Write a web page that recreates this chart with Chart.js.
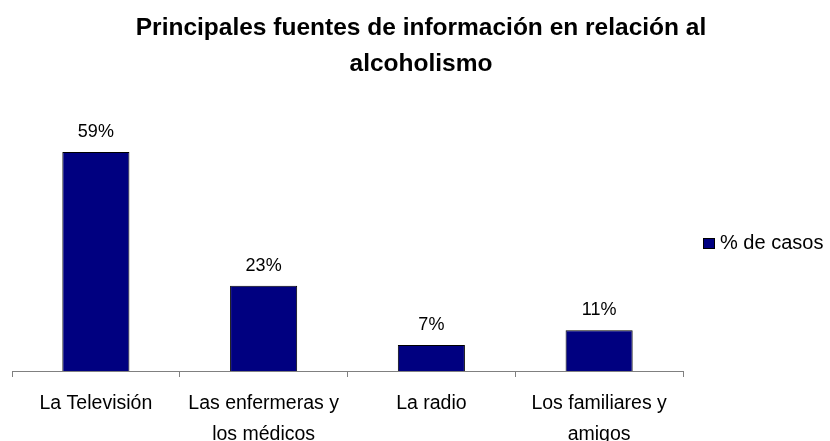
<!DOCTYPE html>
<html lang="es">
<head>
<meta charset="utf-8">
<title>Principales fuentes de información en relación al alcoholismo</title>
<script src="https://cdn.jsdelivr.net/npm/chart.js@4/dist/chart.umd.min.js"></script>
<style>
  html, body { margin: 0; padding: 0; background: #ffffff; }
  canvas { display: block; }
</style>
</head>
<body>
<canvas id="chart" width="830" height="441"></canvas>
<script>
// Categories (split into lines as shown under the axis)
const categories = [
  ["La Televisión"],
  ["Las enfermeras y", "los médicos"],
  ["La radio"],
  ["Los familiares y", "amigos"]
];
// Percentage of cases per source
const values = [59, 23, 7, 11];
const seriesLabel = "% de casos";
const titleLines = ["Principales fuentes de información en relación al", "alcoholismo"];

const FONT = "'Liberation Sans', Arial, Helvetica, sans-serif";
const NAVY = "#000080";

// Percentage labels above each bar
const valueLabels = {
  id: "valueLabels",
  afterDatasetsDraw(chart) {
    const ctx = chart.ctx;
    const meta = chart.getDatasetMeta(0);
    ctx.save();
    ctx.font = "18px " + FONT;
    ctx.fillStyle = "#000000";
    ctx.textAlign = "center";
    ctx.textBaseline = "alphabetic";
    meta.data.forEach((bar, i) => {
      const v = chart.data.datasets[0].data[i];
      ctx.fillText(v + "%", bar.x, bar.y - 15);
    });
    ctx.restore();
  }
};

// Single-entry legend to the right of the plot
const sideLegend = {
  id: "sideLegend",
  afterDraw(chart) {
    const ctx = chart.ctx;
    const ds = chart.data.datasets[0];
    const x = chart.chartArea.right + 20;
    const y = 238;
    ctx.save();
    ctx.fillStyle = ds.backgroundColor;
    ctx.fillRect(x, y, 12, 11);
    ctx.strokeStyle = "#000000";
    ctx.lineWidth = 1;
    ctx.strokeRect(x + 0.5, y + 0.5, 11, 10);
    ctx.font = "20px " + FONT;
    ctx.fillStyle = "#000000";
    ctx.textAlign = "left";
    ctx.textBaseline = "middle";
    ctx.fillText(ds.label, x + 17, y + 5.5);
    ctx.restore();
  }
};

new Chart(document.getElementById("chart"), {
  type: "bar",
  data: {
    labels: categories,
    datasets: [{
      label: seriesLabel,
      data: values,
      backgroundColor: NAVY,
      borderColor: "#000000",
      borderWidth: 1,
      barPercentage: 0.4,
      categoryPercentage: 1.0
    }]
  },
  options: {
    responsive: false,
    animation: false,
    layout: { padding: { left: 12, right: 0, top: 0, bottom: 0 } },
    plugins: {
      legend: { display: false },
      tooltip: { enabled: false },
      title: {
        display: true,
        text: titleLines,
        color: "#000000",
        font: { family: FONT, size: 24.5, weight: "bold", lineHeight: 1.47 },
        padding: { top: 10, bottom: 18 }
      }
    },
    scales: {
      x: {
        type: "category",
        grid: {
          display: true,
          drawOnChartArea: false,
          drawTicks: true,
          tickLength: 6,
          color: "#808080",
          offset: true
        },
        border: { display: true, color: "#808080", width: 1 },
        ticks: {
          color: "#000000",
          font: { family: FONT, size: 19.5, lineHeight: 1.55 },
          padding: 12,
          maxRotation: 0,
          autoSkip: false
        },
        afterFit(scale) { scale.height = 70; }
      },
      y: {
        position: "right",
        min: 0,
        max: 73,
        grid: { display: false },
        border: { display: false },
        ticks: { display: false },
        afterFit(scale) { scale.width = 147; }
      }
    }
  },
  plugins: [valueLabels, sideLegend]
});
</script>
</body>
</html>
